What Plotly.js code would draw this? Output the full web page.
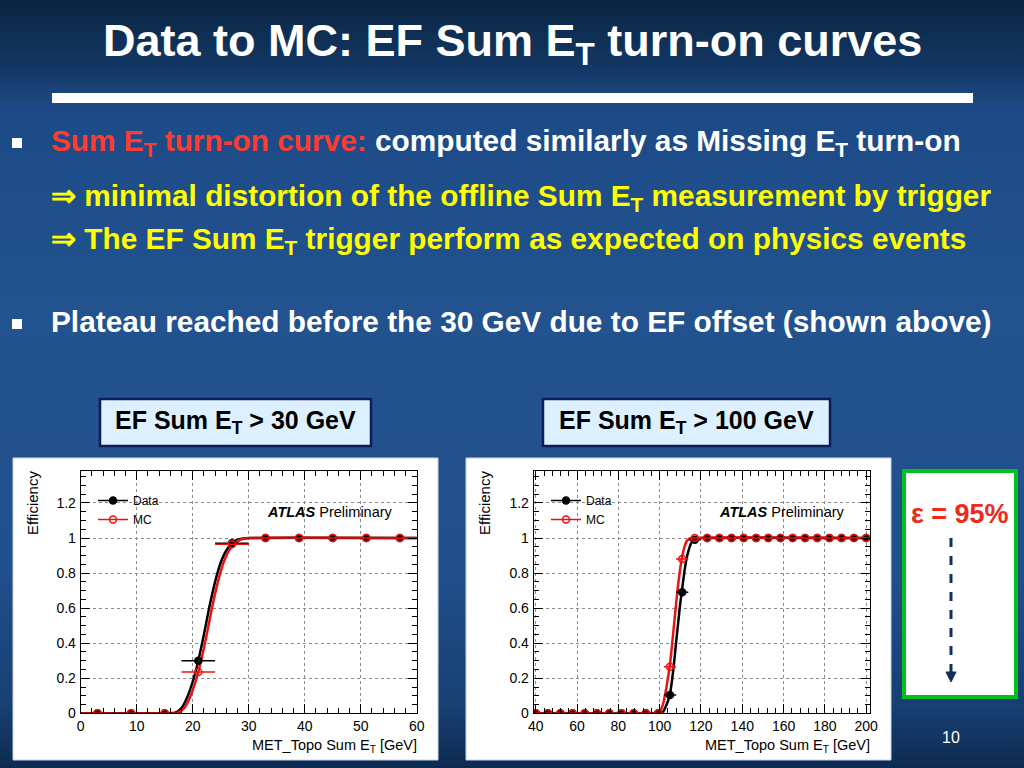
<!DOCTYPE html>
<html>
<head>
<meta charset="utf-8">
<script src="https://cdn.plot.ly/plotly-3.0.1.min.js"></script>
<style>
html,body{margin:0;padding:0;width:1024px;height:768px;overflow:hidden;}
body{background:linear-gradient(180deg,#0a2543 0%,#123560 8%,#1d4a86 14%,#22538f 40%,#214f8b 75%,#173f72 92%,#0d2b50 100%);}
#chart{width:1024px;height:768px;}
</style>
</head>
<body>
<div id="chart"></div>
<script>
// ---------- Data: EF Sum ET > 30 GeV ----------
const p1X      = [3, 9, 15, 21, 27, 33, 39, 45, 51, 57];
const p1Data   = [0, 0, 0, 0.30, 0.97, 1, 1, 1, 1, 1];
const p1MC     = [0, 0, 0, 0.235, 0.965, 1, 1, 1, 1, 1];
const p1XErr   = 3;
const p1FitDataX = [0, 16, 17, 18, 19, 20, 21, 22, 23, 24, 25, 26, 27, 28, 29, 30, 60];
const p1FitDataY = [0, 0, 0.005, 0.03, 0.09, 0.18, 0.30, 0.45, 0.61, 0.75, 0.86, 0.93, 0.97, 0.99, 0.997, 1, 1];
const p1FitMCX   = [0, 16.5, 17.5, 18.5, 19.5, 20.5, 21.5, 22.5, 23.5, 24.5, 25.5, 26.5, 27.5, 28.5, 29.5, 30.5, 60];
const p1FitMCY   = [0, 0, 0.005, 0.03, 0.09, 0.18, 0.30, 0.45, 0.61, 0.75, 0.86, 0.93, 0.97, 0.99, 0.997, 1, 1];

// ---------- Data: EF Sum ET > 100 GeV ----------
const p2X    = [40, 45.9, 51.9, 57.8, 63.7, 69.6, 75.6, 81.5, 87.4, 93.3, 99.3, 105.0, 110.9, 117.0, 123.0, 128.9, 134.8, 140.7, 146.7, 152.6, 158.5, 164.4, 170.4, 176.3, 182.2, 188.1, 194.1, 200.0];
const p2Data = [0, 0, 0, 0, 0, 0, 0, 0, 0, 0, 0, 0.105, 0.69, 0.99, 1, 1, 1, 1, 1, 1, 1, 1, 1, 1, 1, 1, 1, 1];
const p2MC   = [0, 0, 0, 0, 0, 0, 0, 0, 0, 0, 0, 0.265, 0.88, 1, 1, 1, 1, 1, 1, 1, 1, 1, 1, 1, 1, 1, 1, 1];
const p2XErr = 2.97;
const p2FitDataX = [39, 100, 101, 102, 103, 104, 105, 106, 107, 108, 109, 110, 111, 112, 113, 114, 115, 116, 118, 120, 202];
const p2FitDataY = [0, 0, 0.005, 0.015, 0.04, 0.07, 0.11, 0.19, 0.29, 0.41, 0.52, 0.63, 0.72, 0.81, 0.88, 0.93, 0.965, 0.985, 0.997, 1, 1];
const p2FitMCX   = [39, 99, 100, 101, 102, 103, 104, 105, 106, 107, 108, 109, 110, 111, 112, 113, 114, 116, 202];
const p2FitMCY   = [0, 0, 0.01, 0.03, 0.07, 0.13, 0.20, 0.28, 0.39, 0.51, 0.63, 0.74, 0.83, 0.90, 0.95, 0.98, 0.993, 1, 1];

const xTitle = 'MET_Topo Sum E<sub>T</sub> [GeV]';
const yTitle = 'Efficiency';

// ---------- helpers ----------
const W = 1024, H = 768;
const px = v => v / W;
const py = v => 1 - v / H;
const BLACK = '#000000', RED = '#ee1111';
const tickFont = {family: 'Liberation Sans, Arial, sans-serif', size: 14, color: '#000'};

function pts(x, y, color, symbol, xa, ya, err) {
  return {x: x, y: y, xaxis: xa, yaxis: ya, type: 'scatter', mode: 'markers', showlegend: false,
    marker: {color: color, size: 7, symbol: symbol, line: {color: color, width: 1.5}},
    error_x: {type: 'constant', value: err, color: color, thickness: 1.5, width: 0}, cliponaxis: true};
}
function fit(x, y, color, xa, ya) {
  return {x: x, y: y, xaxis: xa, yaxis: ya, type: 'scatter', mode: 'lines', showlegend: false,
    line: {color: color, width: 2.5, shape: 'spline', smoothing: 0.5}, hoverinfo: 'skip'};
}
function leg(name, color, symbol, xa, ya, lg) {
  return {x: [null], y: [null], xaxis: xa, yaxis: ya, type: 'scatter', mode: 'lines+markers', name: name,
    legend: lg, line: {color: color, width: 1.5}, marker: {color: color, size: 7, symbol: symbol, line: {color: color, width: 1.5}}};
}

const traces = [
  fit(p1FitDataX, p1FitDataY, BLACK, 'x', 'y'),
  fit(p1FitMCX, p1FitMCY, RED, 'x', 'y'),
  pts(p1X, p1Data, BLACK, 'circle', 'x', 'y', p1XErr),
  pts(p1X, p1MC, RED, 'circle-open', 'x', 'y', p1XErr),
  leg('Data', BLACK, 'circle', 'x', 'y', 'legend'),
  leg('MC', RED, 'circle-open', 'x', 'y', 'legend'),
  fit(p2FitDataX, p2FitDataY, BLACK, 'x2', 'y2'),
  fit(p2FitMCX, p2FitMCY, RED, 'x2', 'y2'),
  pts(p2X, p2Data, BLACK, 'circle', 'x2', 'y2', p2XErr),
  pts(p2X, p2MC, RED, 'circle-open', 'x2', 'y2', p2XErr),
  leg('Data', BLACK, 'circle', 'x2', 'y2', 'legend2'),
  leg('MC', RED, 'circle-open', 'x2', 'y2', 'legend2')
];

function xaxis(domain, range, dtick, minor, anchor) {
  return {domain: domain, range: range, anchor: anchor, dtick: dtick, tick0: 0,
    ticks: 'inside', ticklen: 9, tickcolor: '#000', tickwidth: 1, mirror: 'allticks',
    showline: true, linecolor: '#000', linewidth: 1, showgrid: true, gridcolor: '#8a8a8a', griddash: 'dot', gridwidth: 1,
    zeroline: false, tickfont: tickFont, ticklabelstandoff: 0,
    minor: {ticks: 'inside', ticklen: 5, dtick: minor, tickcolor: '#000', showgrid: false}, fixedrange: true};
}
function yaxis(domain, anchor) {
  return {domain: domain, range: [0, 1.384], anchor: anchor, dtick: 0.2, tick0: 0,
    ticks: 'inside', ticklen: 9, tickcolor: '#000', tickwidth: 1, mirror: 'allticks',
    showline: true, linecolor: '#000', linewidth: 1, showgrid: true, gridcolor: '#8a8a8a', griddash: 'dot', gridwidth: 1,
    zeroline: false, tickfont: tickFont, ticklabelstandoff: 1,
    minor: {ticks: 'inside', ticklen: 5, dtick: 0.05, tickcolor: '#000', showgrid: false}, fixedrange: true};
}

const yDom = [py(713.3), py(470.7)];
const txtFont = 'Liberation Sans, Arial, sans-serif';

const annotations = [
  // slide title
  {x: px(512), y: py(44), xref: 'paper', yref: 'paper', showarrow: false, xanchor: 'center', yanchor: 'middle',
   text: '<b>Data to MC: EF Sum E<sub>T</sub> turn-on curves</b>', font: {family: txtFont, size: 45, color: '#ffffff'}},
  // bullet texts
  {x: px(49), y: py(142), xref: 'paper', yref: 'paper', showarrow: false, xanchor: 'left', yanchor: 'middle', align: 'left',
   text: '<b><span style="color:#ff3b30">Sum E<sub>T</sub> turn-on curve:</span> computed similarly as Missing E<sub>T</sub> turn-on</b>',
   font: {family: txtFont, size: 29.8, color: '#ffffff'}},
  {x: px(49), y: py(197), xref: 'paper', yref: 'paper', showarrow: false, xanchor: 'left', yanchor: 'middle', align: 'left',
   text: '<b>⇒ minimal distortion of the offline Sum E<sub>T</sub> measurement by trigger</b>',
   font: {family: txtFont, size: 29.8, color: '#ffff00'}},
  {x: px(49), y: py(240), xref: 'paper', yref: 'paper', showarrow: false, xanchor: 'left', yanchor: 'middle', align: 'left',
   text: '<b>⇒ The EF Sum E<sub>T</sub> trigger perform as expected on physics events</b>',
   font: {family: txtFont, size: 29.8, color: '#ffff00'}},
  {x: px(49), y: py(322), xref: 'paper', yref: 'paper', showarrow: false, xanchor: 'left', yanchor: 'middle', align: 'left',
   text: '<b>Plateau reached before the 30 GeV due to EF offset (shown above)</b>',
   font: {family: txtFont, size: 29.8, color: '#ffffff'}},
  // threshold boxes
  {x: px(235.5), y: py(422), xref: 'paper', yref: 'paper', showarrow: false, xanchor: 'center', yanchor: 'middle',
   text: '<b>EF Sum E<sub>T</sub> &gt; 30 GeV</b>', font: {family: txtFont, size: 25, color: '#000000'}},
  {x: px(686.5), y: py(422), xref: 'paper', yref: 'paper', showarrow: false, xanchor: 'center', yanchor: 'middle',
   text: '<b>EF Sum E<sub>T</sub> &gt; 100 GeV</b>', font: {family: txtFont, size: 25, color: '#000000'}},
  // epsilon box
  {x: px(960), y: py(514), xref: 'paper', yref: 'paper', showarrow: false, xanchor: 'center', yanchor: 'middle',
   text: '<b>ε = 95%</b>', font: {family: txtFont, size: 27, color: '#ee2a1a'}},
  // page number
  {x: px(951), y: py(737), xref: 'paper', yref: 'paper', showarrow: false, xanchor: 'center', yanchor: 'middle',
   text: '10', font: {family: txtFont, size: 16, color: '#ffffff'}},
  // axis titles plot 1
  {x: px(32), y: py(469), xref: 'paper', yref: 'paper', showarrow: false, xanchor: 'center', yanchor: 'top', textangle: -90,
   text: yTitle, font: {family: txtFont, size: 15, color: '#000'}},
  {x: px(419), y: py(746), xref: 'paper', yref: 'paper', showarrow: false, xanchor: 'right', yanchor: 'middle',
   text: xTitle, font: {family: txtFont, size: 14.5, color: '#000'}},
  // axis titles plot 2
  {x: px(484), y: py(469), xref: 'paper', yref: 'paper', showarrow: false, xanchor: 'center', yanchor: 'top', textangle: -90,
   text: yTitle, font: {family: txtFont, size: 15, color: '#000'}},
  {x: px(872), y: py(746), xref: 'paper', yref: 'paper', showarrow: false, xanchor: 'right', yanchor: 'middle',
   text: xTitle, font: {family: txtFont, size: 14.5, color: '#000'}},
  // ATLAS Preliminary
  {x: px(330), y: py(512), xref: 'paper', yref: 'paper', showarrow: false, xanchor: 'center', yanchor: 'middle',
   text: '<b><i>ATLAS</i></b> Preliminary', font: {family: txtFont, size: 14.5, color: '#000'}},
  {x: px(782), y: py(512), xref: 'paper', yref: 'paper', showarrow: false, xanchor: 'center', yanchor: 'middle',
   text: '<b><i>ATLAS</i></b> Preliminary', font: {family: txtFont, size: 14.5, color: '#000'}}
];

const shapes = [
  // title underline bar
  {type: 'rect', xref: 'paper', yref: 'paper', x0: px(52), x1: px(973), y0: py(103), y1: py(93), fillcolor: '#ffffff', line: {width: 0}, layer: 'below'},
  // bullet squares
  {type: 'rect', xref: 'paper', yref: 'paper', x0: px(12), x1: px(22), y0: py(148), y1: py(138), fillcolor: '#ffffff', line: {width: 0}},
  {type: 'rect', xref: 'paper', yref: 'paper', x0: px(12), x1: px(22), y0: py(329), y1: py(319), fillcolor: '#ffffff', line: {width: 0}},
  // white plot panels
  {type: 'rect', xref: 'paper', yref: 'paper', x0: px(13), x1: px(438), y0: py(760), y1: py(458), fillcolor: '#ffffff', line: {color: '#c8d4e4', width: 1}, layer: 'below'},
  {type: 'rect', xref: 'paper', yref: 'paper', x0: px(466), x1: px(891), y0: py(760), y1: py(458), fillcolor: '#ffffff', line: {color: '#c8d4e4', width: 1}, layer: 'below'},
  // threshold boxes
  {type: 'rect', xref: 'paper', yref: 'paper', x0: px(100), x1: px(371), y0: py(446), y1: py(399), fillcolor: '#ddf0ff', line: {color: '#101c5a', width: 2.5}, layer: 'below'},
  {type: 'rect', xref: 'paper', yref: 'paper', x0: px(543), x1: px(830), y0: py(446), y1: py(399), fillcolor: '#ddf0ff', line: {color: '#101c5a', width: 2.5}, layer: 'below'},
  // epsilon box
  {type: 'rect', xref: 'paper', yref: 'paper', x0: px(904), x1: px(1016), y0: py(697), y1: py(471), fillcolor: '#ffffff', line: {color: '#00c020', width: 4}, layer: 'below'},
  // dashed arrow
  {type: 'line', xref: 'paper', yref: 'paper', x0: px(951), x1: px(951), y0: py(538), y1: py(672), line: {color: '#13305c', width: 3, dash: 'dash'}},
  {type: 'path', xref: 'paper', yref: 'paper', path: 'M ' + px(946) + ' ' + py(672) + ' L ' + px(956) + ' ' + py(672) + ' L ' + px(951) + ' ' + py(682) + ' Z',
   fillcolor: '#13305c', line: {color: '#13305c', width: 1}}
];

const legendBase = {bgcolor: 'rgba(0,0,0,0)', borderwidth: 0, font: {family: txtFont, size: 12, color: '#000'},
  xanchor: 'left', yanchor: 'top', itemwidth: 30, tracegroupgap: 2, traceorder: 'normal'};

const layout = {
  width: W, height: H, margin: {l: 0, r: 0, t: 0, b: 0},
  paper_bgcolor: 'rgba(0,0,0,0)', plot_bgcolor: '#ffffff',
  xaxis: xaxis([px(80.7), px(416.7)], [0, 60], 10, 2, 'y'),
  yaxis: yaxis(yDom, 'x'),
  xaxis2: xaxis([px(533.7), px(870.3)], [39, 202], 20, 4, 'y2'),
  yaxis2: yaxis(yDom, 'x2'),
  legend: Object.assign({}, legendBase, {x: px(93), y: py(486)}),
  legend2: Object.assign({}, legendBase, {x: px(546), y: py(486)}),
  annotations: annotations,
  shapes: shapes,
  showlegend: true
};

Plotly.newPlot('chart', traces, layout, {staticPlot: true, displayModeBar: false});
</script>
</body>
</html>
